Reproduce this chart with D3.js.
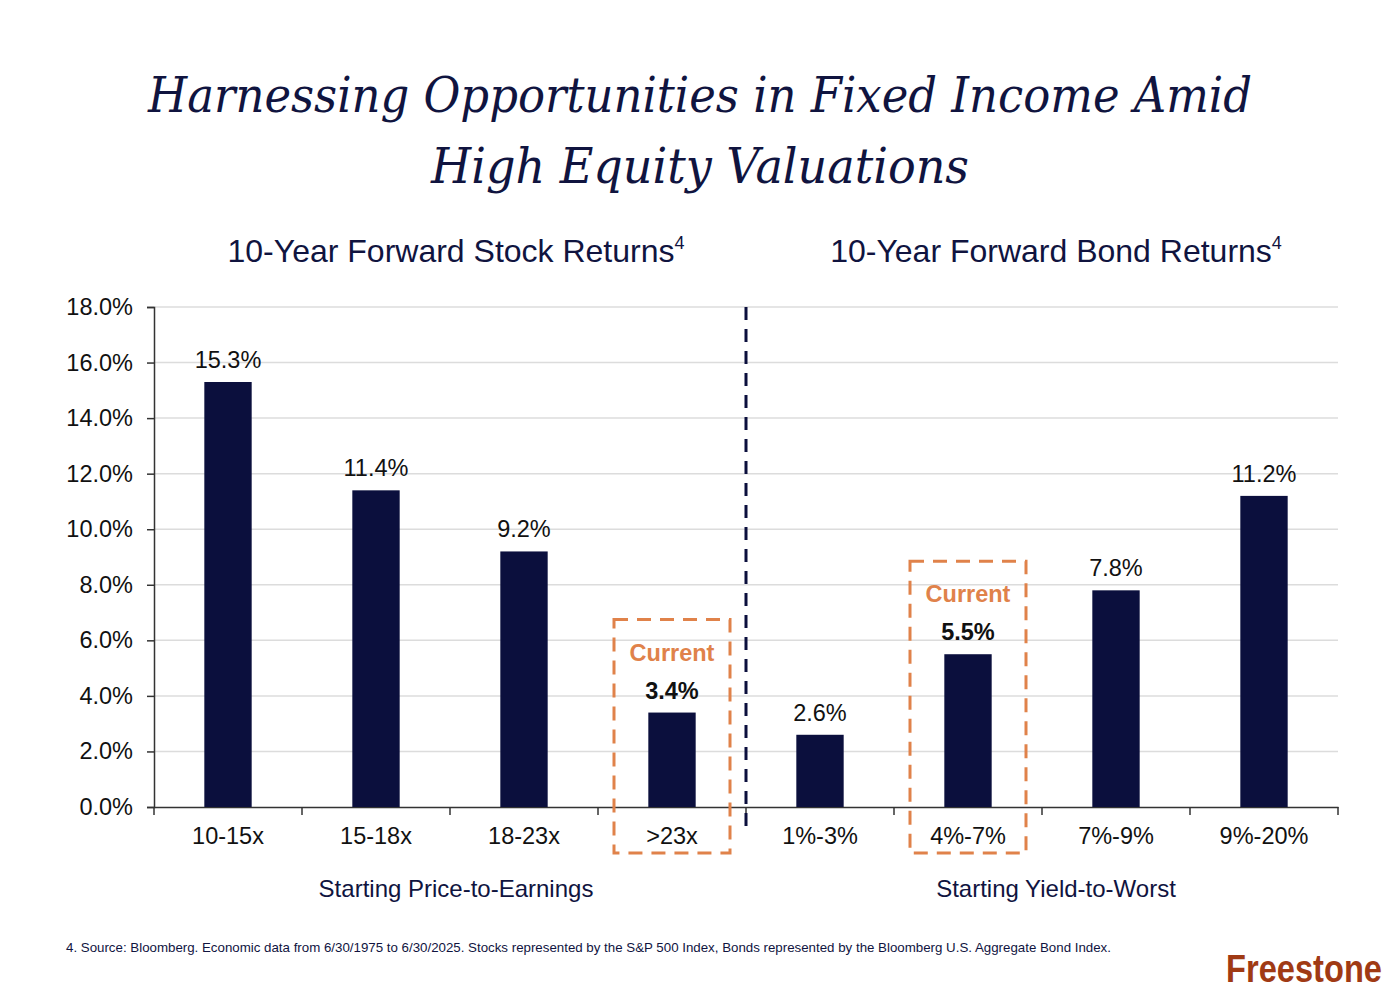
<!DOCTYPE html>
<html><head><meta charset="utf-8">
<script src="https://cdn.jsdelivr.net/npm/d3@7"></script>
<style>body{margin:0;background:#fff}svg{display:block}</style>
</head><body>
<div id="chart"></div>
<script>
const categories = ["10-15x","15-18x","18-23x",">23x","1%-3%","4%-7%","7%-9%","9%-20%"];
const values = [15.3, 11.4, 9.2, 3.4, 2.6, 5.5, 7.8, 11.2];
const currentFlags = [false,false,false,true,false,true,false,false];
const yTicks = [0,2,4,6,8,10,12,14,16,18];
const titleLines = ["Harnessing Opportunities in Fixed Income Amid","High Equity Valuations"];
const panelTitles = ["10-Year Forward Stock Returns","10-Year Forward Bond Returns"];
const axisTitles = ["Starting Price-to-Earnings","Starting Yield-to-Worst"];
const footnote = "4. Source: Bloomberg. Economic data from 6/30/1975 to 6/30/2025. Stocks represented by the S&P 500 Index, Bonds represented by the Bloomberg U.S. Aggregate Bond Index.";

(function(){
const W=1400,H=1000;
const navy="#0b0f3d", orange="#e0824a", textc="#111";
const sans="'Liberation Sans', Arial, sans-serif";
const svg=d3.select("#chart").append("svg").attr("width",W).attr("height",H);
const pL=154,pR=1338,pT=307,pB=807;
const x=d3.scaleBand().domain(categories).range([pL,pR]).paddingInner(0.68).paddingOuter(0.34);
const xb=d3.scaleBand().domain(categories).range([pL,pR]);
const y=d3.scaleLinear().domain([0,18]).range([pB,pT]);
const titleLens=[1104,538];

svg.selectAll(".t").data(titleLines).enter().append("text")
 .attr("x",700).attr("y",(d,i)=>112+i*71).attr("text-anchor","middle")
 .attr("font-family","'DejaVu Serif', Georgia, serif").attr("font-style","italic")
 .attr("font-size",48).attr("fill","#10143f")
 .attr("textLength",(d,i)=>titleLens[i]).attr("lengthAdjust","spacingAndGlyphs").text(d=>d);

[456,1056].forEach((cx,i)=>{
 const t=svg.append("text").attr("x",cx).attr("y",262).attr("text-anchor","middle")
  .attr("font-family",sans).attr("font-size",32).attr("fill","#10143f");
 t.append("tspan").text(panelTitles[i]);
 t.append("tspan").attr("font-size",18).attr("dy",-13).text("4");
});

svg.append("g").selectAll("line").data(yTicks.slice(1)).enter().append("line")
 .attr("x1",pL).attr("x2",pR).attr("y1",d=>y(d)).attr("y2",d=>y(d))
 .attr("stroke","#dcdcdc").attr("stroke-width",1.5);

const ya=svg.append("g").attr("transform",`translate(${pL},0)`)
 .call(d3.axisLeft(y).tickValues(yTicks).tickFormat(d=>d.toFixed(1)+"%").tickSize(7).tickPadding(14));
ya.select(".domain").attr("stroke","#333").attr("stroke-width",1.5);
ya.selectAll(".tick line").attr("stroke","#333").attr("stroke-width",1.5);
ya.selectAll("text").attr("font-family",sans).attr("font-size",23.5).attr("fill",textc);

const xa=svg.append("g").attr("transform",`translate(0,${pB})`)
 .call(d3.axisBottom(xb).tickSize(0).tickPadding(20));
xa.select(".domain").attr("stroke","#333").attr("stroke-width",1.5);
xa.selectAll("text").attr("font-family",sans).attr("font-size",23.5).attr("fill",textc);
const bounds=categories.map(c=>xb(c)).concat([pR]);
svg.append("g").selectAll("line").data(bounds).enter().append("line")
 .attr("x1",d=>d).attr("x2",d=>d).attr("y1",pB).attr("y2",pB+8)
 .attr("stroke","#333").attr("stroke-width",1.5);

svg.append("g").selectAll("rect").data(values).enter().append("rect")
 .attr("x",(d,i)=>x(categories[i])).attr("width",x.bandwidth())
 .attr("y",d=>y(d)).attr("height",d=>pB-y(d)).attr("fill",navy);

svg.append("g").selectAll("text").data(values).enter().append("text")
 .attr("x",(d,i)=>xb(categories[i])+xb.bandwidth()/2).attr("y",d=>y(d)-14)
 .attr("text-anchor","middle").attr("font-family",sans)
 .attr("font-size",23.5).attr("font-weight",(d,i)=>currentFlags[i]?"bold":"normal")
 .attr("fill",textc).text(d=>d.toFixed(1)+"%");

values.forEach((v,i)=>{
 if(!currentFlags[i]) return;
 const cx=xb(categories[i])+xb.bandwidth()/2;
 const topY=y(v)-93;
 svg.append("rect").attr("x",cx-58).attr("y",topY).attr("width",116).attr("height",853-topY)
  .attr("fill","none").attr("stroke",orange).attr("stroke-width",3).attr("stroke-dasharray","14,9");
 svg.append("text").attr("x",cx).attr("y",y(v)-52).attr("text-anchor","middle")
  .attr("font-family",sans).attr("font-size",23.5).attr("font-weight","bold")
  .attr("fill",orange).text("Current");
});

const divX=xb(categories[4]);
svg.append("line").attr("x1",divX).attr("x2",divX).attr("y1",pT).attr("y2",832)
 .attr("stroke",navy).attr("stroke-width",3).attr("stroke-dasharray","13,9");

[456,1056].forEach((cx,i)=>svg.append("text").attr("x",cx).attr("y",897).attr("text-anchor","middle")
 .attr("font-family",sans).attr("font-size",24).attr("fill","#10143f").text(axisTitles[i]));

svg.append("text").attr("x",66).attr("y",952).attr("font-family",sans)
 .attr("font-size",13.3).attr("fill","#10143f").text(footnote);

svg.append("g").attr("transform","translate(1382,982) scale(0.96,1.12)")
 .append("text").attr("x",0).attr("y",0).attr("text-anchor","end")
 .attr("font-family",sans).attr("font-weight","bold")
 .attr("font-size",34).attr("fill","#a03a14").text("Freestone");
})();
</script>
</body></html>
